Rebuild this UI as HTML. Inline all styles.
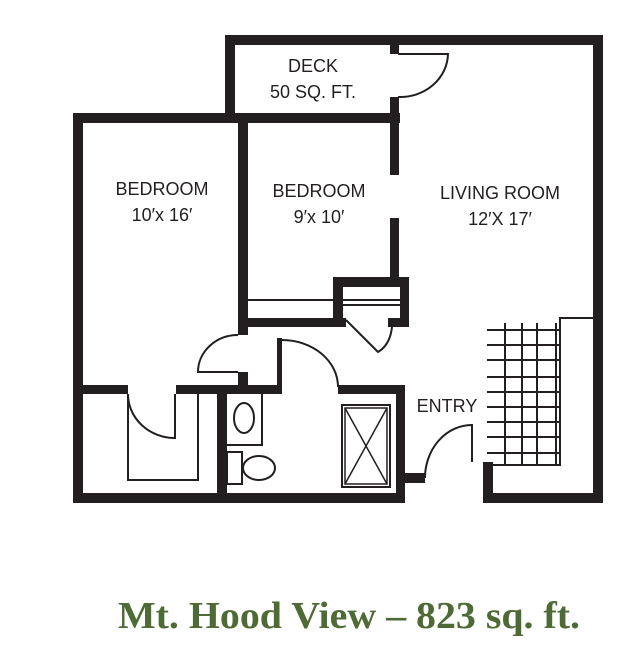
<!DOCTYPE html>
<html><head><meta charset="utf-8"><style>
html,body{margin:0;padding:0;background:#fff;}
svg{display:block;}
text{font-family:"Liberation Sans",sans-serif;fill:#231f20;}
</style></head><body>
<svg width="640" height="664" viewBox="0 0 640 664" xmlns="http://www.w3.org/2000/svg">
<g fill="#231f20">
<!-- deck -->
<rect x="225" y="35" width="378" height="10"/>
<rect x="225" y="35" width="10" height="88"/>
<rect x="73" y="113" width="327" height="10"/>
<!-- left outer -->
<rect x="73" y="113" width="10" height="390"/>
<rect x="73" y="493" width="332" height="10"/>
<!-- right outer -->
<rect x="593" y="35" width="10" height="468"/>
<rect x="483" y="493" width="120" height="10"/>
<rect x="483" y="462" width="10" height="41"/>
<rect x="405" y="473" width="20" height="10"/>
<!-- bedroom divider -->
<rect x="238" y="113" width="10" height="222"/>
<rect x="238" y="372" width="10" height="21"/>
<!-- bedroom2/living wall -->
<rect x="390" y="35" width="9" height="19"/>
<rect x="390" y="97" width="9" height="78"/>
<rect x="390" y="218" width="9" height="62"/>
<!-- closet box -->
<rect x="333" y="277" width="76" height="10"/>
<rect x="333" y="277" width="10" height="50"/>
<rect x="400" y="277" width="9" height="50"/>
<rect x="388" y="318" width="21" height="9"/>
<rect x="238" y="318" width="108" height="9"/>
<!-- hallway walls -->
<rect x="73" y="385" width="55" height="9"/>
<rect x="176" y="385" width="106" height="9"/>
<rect x="277" y="338" width="5" height="56"/>
<rect x="338" y="385" width="67" height="9"/>
<rect x="396" y="385" width="9" height="118"/>
<rect x="217" y="385" width="10" height="118"/>
</g>
<g fill="none" stroke="#231f20" stroke-width="2">
<!-- deck door -->
<path d="M398 54 H448 A48 44 0 0 1 398 97"/>
<!-- closet shelves -->
<line x1="248" y1="300" x2="333" y2="300"/>
<line x1="343" y1="300" x2="400" y2="300"/>
<line x1="343" y1="305" x2="400" y2="305"/>
<!-- closet door -->
<path d="M346 320 L378 352 Q390 345 392 327"/>
<!-- bedroom door -->
<path d="M238 372 H198 A40 37 0 0 1 238 335"/>
<!-- bath door -->
<path d="M282 340 A56 47 0 0 1 338 387"/>
<!-- left closet -->
<path d="M128 394 V480 H198 V394"/>
<path d="M175 394 V438 A47 44 0 0 1 128 394"/>
<!-- bath fixtures -->
<path d="M227 445 H262 V394"/>
<ellipse cx="244" cy="418" rx="10" ry="15"/>
<rect x="227" y="452" width="15" height="32"/>
<ellipse cx="259" cy="468" rx="16" ry="12"/>
<rect x="227" y="493" width="0" height="0"/>
<!-- shower -->
<rect x="342" y="405" width="48" height="82"/>
<rect x="345" y="408" width="42" height="76" stroke-width="1.5"/>
<path d="M345 408 L387 484 M387 408 L345 484" stroke-width="1.5"/>
<!-- entry door -->
<path d="M472 462 V425 A47 53 0 0 0 425 478"/>
<!-- stairs area -->
<path d="M593 318 H560 V465 H492"/>
<line x1="556" y1="323" x2="556" y2="465"/>
</g>
<g stroke="#231f20" stroke-width="2">
<line x1="505" y1="323" x2="505" y2="465"/>
<line x1="522" y1="323" x2="522" y2="465"/>
<line x1="537" y1="323" x2="537" y2="465"/>
<line x1="487" y1="330" x2="560" y2="330"/>
<line x1="487" y1="345" x2="560" y2="345"/>
<line x1="487" y1="360" x2="560" y2="360"/>
<line x1="487" y1="377" x2="560" y2="377"/>
<line x1="487" y1="392" x2="560" y2="392"/>
<line x1="487" y1="407" x2="560" y2="407"/>
<line x1="487" y1="422" x2="560" y2="422"/>
<line x1="487" y1="437" x2="560" y2="437"/>
<line x1="487" y1="453" x2="560" y2="453"/>
</g>
<g font-size="18" text-anchor="middle">
<text x="313" y="72">DECK</text>
<text x="313" y="98">50 SQ. FT.</text>
<text x="162" y="195">BEDROOM</text>
<text x="162" y="221">10′x 16′</text>
<text x="319" y="197">BEDROOM</text>
<text x="319" y="223">9′x 10′</text>
<text x="500" y="199">LIVING ROOM</text>
<text x="500" y="225">12′X 17′</text>
<text x="447" y="412">ENTRY</text>
</g>
<text x="118" y="628" font-family="Liberation Serif,serif" font-weight="bold" font-size="38" textLength="462" lengthAdjust="spacingAndGlyphs" style="fill:#4e6a35;font-family:'Liberation Serif',serif">Mt. Hood View – 823 sq. ft.</text>
</svg>
</body></html>
